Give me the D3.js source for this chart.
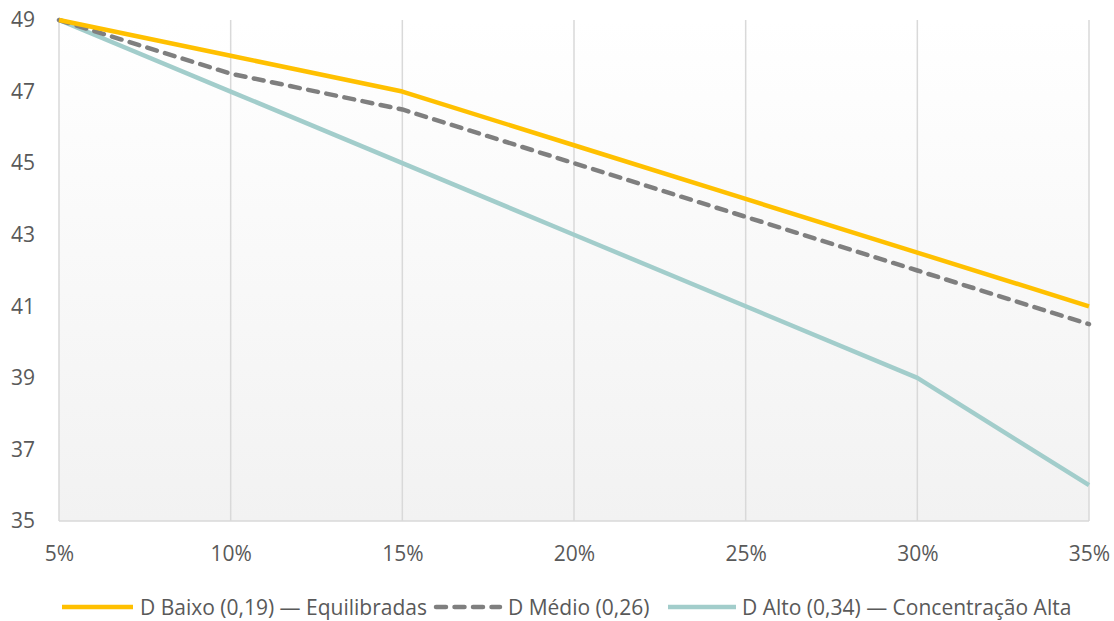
<!DOCTYPE html>
<html><head><meta charset="utf-8">
<script src="https://cdn.jsdelivr.net/npm/d3@7"></script>
<style>
body{margin:0;background:#fff;}
text{font-family:"Open Sans", sans-serif;fill:#595959;}
</style></head>
<body><svg id="c" width="1114" height="621"></svg>
<script>
const categories = ["5%","10%","15%","20%","25%","30%","35%"];
const seriesNames = ["D Baixo (0,19) — Equilibradas","D Médio (0,26)","D Alto (0,34) — Concentração Alta"];
const baixo = [49,48,47,45.5,44,42.5,41];
const medio = [49,47.5,46.5,45,43.5,42,40.5];
const alto  = [49,47,45,43,41,39,36];
const yTicks = [35,37,39,41,43,45,47,49];

const svg = d3.select("#c");
const L=59,R=1089,T=20,B=521;
const x = d3.scalePoint().domain(categories).range([L,R]);
const y = d3.scaleLinear().domain([35,49]).range([B,T]);

const defs = svg.append("defs");
const g = defs.append("linearGradient").attr("id","bg").attr("x1",0).attr("y1",0).attr("x2",0).attr("y2",1);
g.append("stop").attr("offset","0%").attr("stop-color","#ffffff");
g.append("stop").attr("offset","100%").attr("stop-color","#f2f2f2");
svg.append("rect").attr("x",L).attr("y",T).attr("width",R-L).attr("height",B-T).attr("fill","url(#bg)");

svg.append("g").selectAll("line").data(categories).join("line")
 .attr("x1",d=>x(d)).attr("x2",d=>x(d)).attr("y1",T).attr("y2",B)
 .attr("stroke","#d9d9d9").attr("stroke-width",1.5);
svg.append("line").attr("x1",L).attr("x2",R).attr("y1",B).attr("y2",B).attr("stroke","#d9d9d9").attr("stroke-width",1.5);

const ya = svg.append("g").attr("transform",`translate(${L-24},0)`)
 .call(d3.axisLeft(y).tickValues(yTicks).tickSize(0).tickPadding(0));
ya.select(".domain").remove();
ya.selectAll("text").attr("font-size",21).attr("fill","#595959").style("font-family","'Open Sans', sans-serif");

const xa = svg.append("g").attr("transform",`translate(0,${B+25})`)
 .call(d3.axisBottom(x).tickSize(0).tickPadding(0));
xa.select(".domain").remove();
xa.selectAll("text").attr("font-size",21).attr("fill","#595959").attr("dy","0.71em").style("font-family","'Open Sans', sans-serif");

const styles = [
 {data:baixo,color:"#FFC000",w:4.5,dash:null},
 {data:medio,color:"#7F7F7F",w:4.5,dash:"10,8.5"},
 {data:alto,color:"#A2CDCB",w:4.5,dash:null}
];
const line = d3.line().x((d,i)=>x(categories[i])).y(d=>y(d));
[2,1,0].forEach(k=>{
  const s=styles[k];
  svg.append("path").attr("d",line(s.data)).attr("fill","none")
   .attr("stroke",s.color).attr("stroke-width",s.w)
   .attr("stroke-dasharray",s.dash).attr("stroke-linecap",s.dash?"round":"butt")
   .attr("stroke-linejoin","round");
});

const legX=[62,434,668];
const lg = svg.append("g");
seriesNames.forEach((n,k)=>{
  const s=styles[k];
  const ly=607;
  lg.append("line").attr("x1",legX[k]+(s.dash?2:0)).attr("x2",legX[k]+(k==0?71:68)-(s.dash?2:0)).attr("y1",ly).attr("y2",ly)
   .attr("stroke",s.color).attr("stroke-width",s.w).attr("stroke-dasharray",s.dash).attr("stroke-linecap",s.dash?"round":"butt");
  lg.append("text").attr("x",legX[k]+(k==0?78:74)).attr("y",ly).attr("dy","0.36em").attr("font-size",21).text(n);
});
</script></body></html>
